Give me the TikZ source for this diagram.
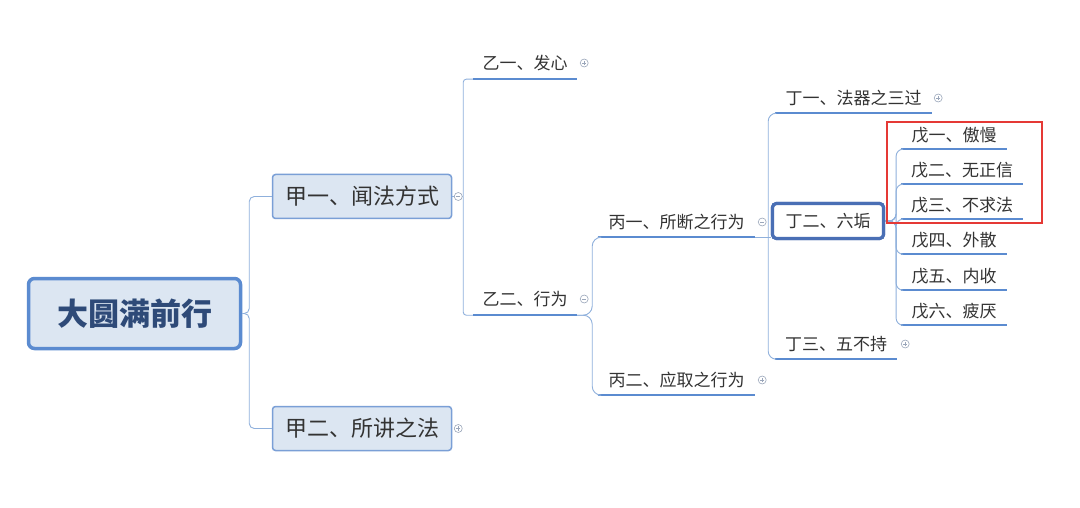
\documentclass[tikz,border=0pt]{standalone}
\usepackage{fontspec}
\setmainfont{Noto Sans CJK SC}
\usetikzlibrary{calc}
\definecolor{txt}{HTML}{333333}
\definecolor{roottxt}{HTML}{2E4A78}
\definecolor{rootbd}{HTML}{5B8BD0}
\definecolor{boxfill}{HTML}{DCE6F2}
\definecolor{boxbd}{HTML}{7A9FD6}
\definecolor{selbd}{HTML}{4A6FB5}
\definecolor{uline}{HTML}{5B8BD0}
\definecolor{connc}{HTML}{8FB0DC}
\definecolor{mkc}{HTML}{9AA6BA}
\definecolor{redbox}{HTML}{E53935}
\begin{document}
\begin{tikzpicture}[x=1pt,y=-1pt,
  rootbox/.style={draw=rootbd, line width=3.5pt, fill=boxfill, rounded corners=6pt,
    minimum width=212pt, minimum height=70pt, inner sep=0pt, text=roottxt,
    font=\fontsize{31}{35}\selectfont\bfseries},
  mainbox/.style={draw=boxbd, line width=1.5pt, fill=boxfill, rounded corners=3pt,
    minimum width=179pt, minimum height=44pt, inner sep=0pt, text=txt,
    font=\fontsize{22}{25}\selectfont},
  selbox/.style={draw=selbd, line width=3.2pt, fill=white, rounded corners=4pt,
    minimum width=111pt, minimum height=35pt, inner sep=0pt, text=txt,
    font=\fontsize{17}{20}\selectfont},
  topic/.style={inner sep=0pt, minimum height=30pt, text=txt,
    font=\fontsize{17}{20}\selectfont},
  ul/.style={draw=uline, line width=2.5pt},
  conn/.style={draw=connc, line width=0.9pt},
  mk/.style={circle, draw=mkc, fill=white, line width=0.6pt, minimum size=8pt, inner sep=0pt},
  mkminus/.style={mk, path picture={\draw[mkc, line width=0.6pt]
    ([xshift=-2.2pt]path picture bounding box.center) -- ([xshift=2.2pt]path picture bounding box.center);}},
  mkplus/.style={mk, path picture={\draw[mkc, line width=0.6pt]
    ([xshift=-2.2pt]path picture bounding box.center) -- ([xshift=2.2pt]path picture bounding box.center)
    ([yshift=-2.2pt]path picture bounding box.center) -- ([yshift=2.2pt]path picture bounding box.center);}}
]
\useasboundingbox[fill=white] (0,0) rectangle (1080,508);

% nodes
\node[rootbox] (root) at (134.5,313.5) {大圆满前行};
\node[mainbox] (j1) at (362,196.5) {甲一、闻法方式};
\node[mainbox] (j2) at (362,428.5) {甲二、所讲之法};

\node[topic, minimum width=104pt, minimum height=32pt] (y1) at (525,63) {乙一、发心};
\node[topic, minimum width=104pt, minimum height=32pt] (y2) at (525,299) {乙二、行为};

\node[topic, minimum width=157pt] (b1) at (676.5,222) {丙一、所断之行为};
\node[topic, minimum width=157pt] (b2) at (676.5,380) {丙二、应取之行为};

\node[topic, minimum width=157pt] (d1) at (853.5,98) {丁一、法器之三过};
\node[selbox] (d2) at (828,221) {丁二、六垢};
\node[topic, minimum width=122pt] (d3) at (836,344) {丁三、五不持};

\node[topic, minimum width=106pt, minimum height=28pt] (w1) at (954,135) {戊一、傲慢};
\node[topic, minimum width=122pt, minimum height=28pt] (w2) at (962,170) {戊二、无正信};
\node[topic, minimum width=122pt, minimum height=28pt] (w3) at (962,205) {戊三、不求法};
\node[topic, minimum width=106pt, minimum height=28pt] (w4) at (954,240) {戊四、外散};
\node[topic, minimum width=106pt, minimum height=28pt] (w5) at (954,276) {戊五、内收};
\node[topic, minimum width=106pt, minimum height=28pt] (w6) at (954,311) {戊六、疲厌};

% underlines
\foreach \n in {y1,y2,b1,b2,d1,d3,w1,w2,w3,w4,w5,w6}
  \draw[ul] (\n.south west) -- (\n.south east);

% connectors
\draw[conn, rounded corners=5pt] (root.east) -- ++(7,0) |- (j1.west);
\draw[conn, rounded corners=5pt] (root.east) -- ++(7,0) |- (j2.west);

\coordinate (v1) at ([xshift=11pt]j1.east);
\draw[conn] (j1.east) -- (v1);
\draw[conn, rounded corners=3pt] (v1) |- (y1.south west);
\draw[conn, rounded corners=3pt] (v1) |- (y2.south west);

\coordinate (v2) at ([xshift=15pt]y2.south east);
\draw[conn, rounded corners=9pt] (y2.south east) -- (v2) |- (b1.south west);
\draw[conn, rounded corners=9pt] (y2.south east) -- (v2) |- (b2.south west);

\coordinate (v3) at ([xshift=13pt]b1.south east);
\draw[conn] (b1.south east) -- (b1.south east -| d2.west);
\draw[conn, rounded corners=8pt] (v3) |- (d1.south west);
\draw[conn, rounded corners=8pt] (v3) |- (d3.south west);

\coordinate (v4) at ([xshift=11pt]d2.east);
\foreach \n in {w1,w2,w3,w4,w5,w6}
  \draw[conn, rounded corners=7pt] (d2.east) -- (v4) |- (\n.south west);

% redraw selected box on top of connectors
\node[selbox] at (d2) {丁二、六垢};

% markers
\node[mkminus] (k1) at ([xshift=6pt]j1.east) {};
\node[mkplus]  (k2) at ([xshift=6pt]j2.east) {};
\node[mkplus]  (k3) at ([xshift=7pt]y1.east) {};
\node[mkminus] (k4) at ([xshift=7pt]y2.east) {};
\node[mkminus] (k5) at ([xshift=7pt]b1.east) {};
\node[mkplus]  (k6) at ([xshift=7pt]b2.east) {};
\node[mkplus]  (k7) at ([xshift=6pt]d1.east) {};
\node[mkplus]  (k8) at ([xshift=8pt]d3.east) {};

% red highlight box
\node[draw=redbox, line width=2pt, inner sep=0pt, minimum width=155pt, minimum height=101pt] (hl) at (964.5,172.5) {};
\end{tikzpicture}
\end{document}
